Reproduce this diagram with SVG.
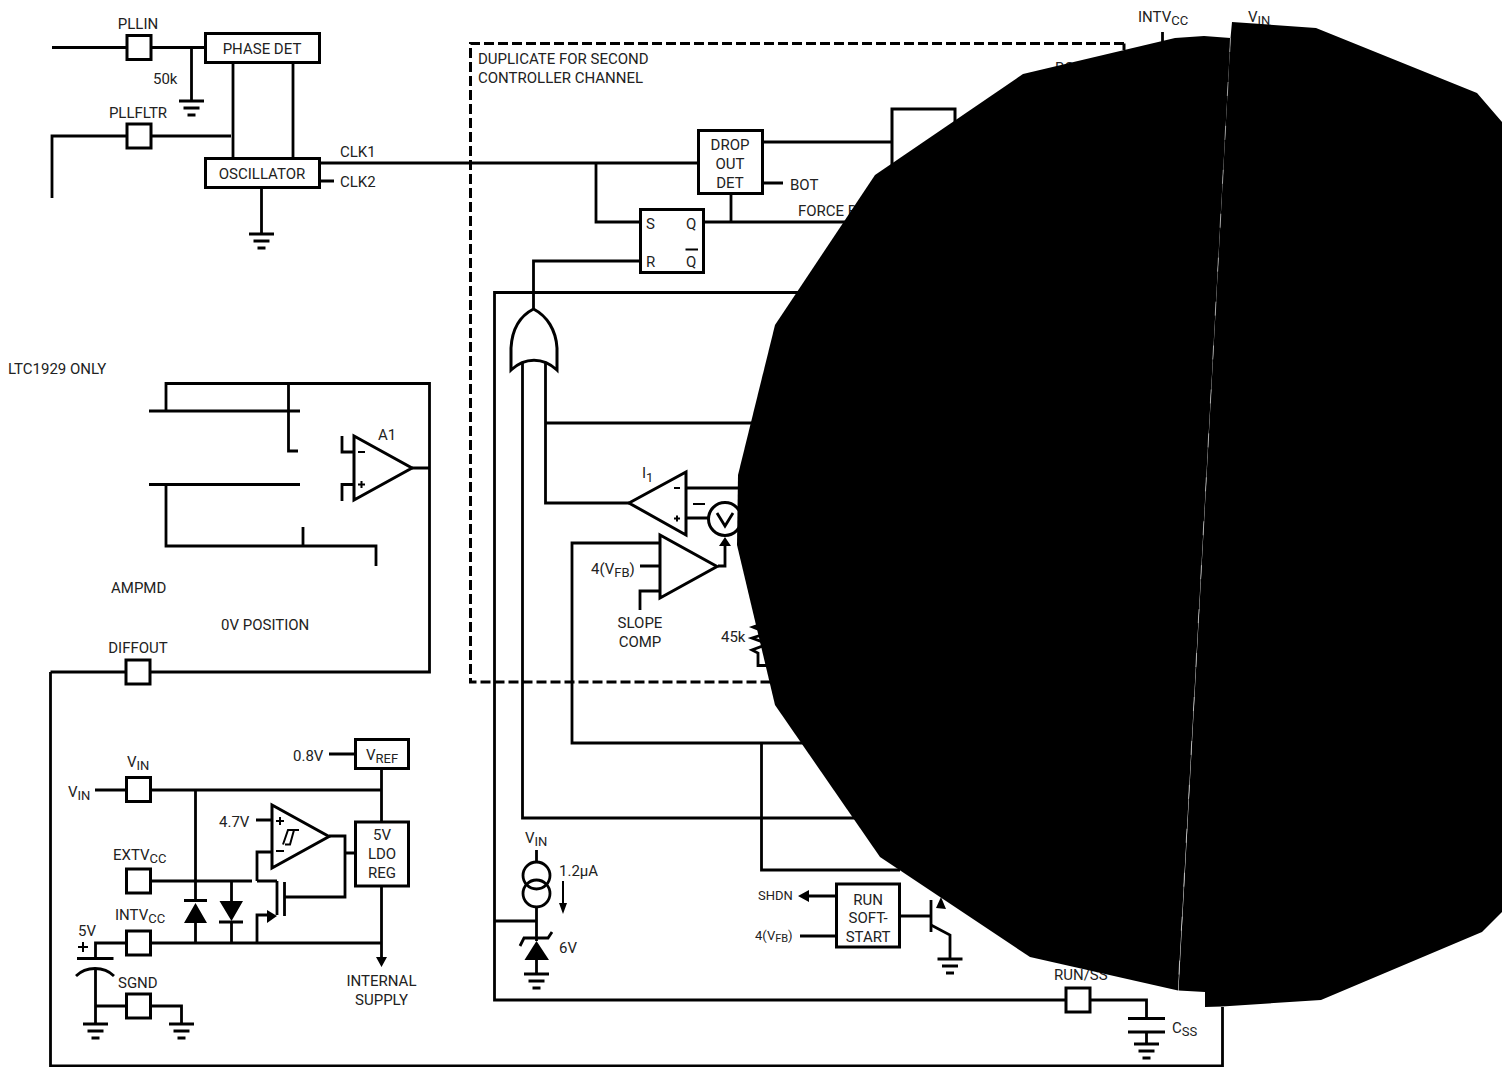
<svg xmlns="http://www.w3.org/2000/svg" width="1502" height="1067" viewBox="0 0 1502 1067">
<style>
text{font-family:"Roboto","Liberation Sans",Arial,sans-serif;font-size:15px;fill:#222}
.c{text-anchor:middle}
.s{font-size:13px}
.w{fill:none;stroke:#000;stroke-width:2.800}
.t{stroke-width:2}
.b{fill:#fff;stroke:#000;stroke-width:3}
.k{fill:#000;stroke:none}
.d{fill:none;stroke:#000;stroke-width:3;stroke-dasharray:10 4}
</style>
<defs>
<g id="gnd"><path class="w" d="M-12.500 0H12.500M-8 7H8M-4 14H4"/></g>
<rect id="pin" x="-12" y="-12" width="24" height="24" class="b"/>
</defs>
<rect width="1502" height="1067" fill="#fff"/>
<g id="connectors">
<path class="w" d="M52 47.500H205M191.500 47.500V101M233 62V158M293 62V158M52 198V136H231M261.500 187V234"/>
<path class="w" d="M319 163H698M319 181H334M596 163V222H640M763 142H892M763 183H783M731 193V222M703 222H860M640 261H533.500V310"/>
<path class="d" d="M1124 43.500H470.500V682H800M1124 43.500V50"/>
<path class="w" d="M1162.500 32V42"/>
<path class="w" d="M800 292.500H494.500V1000H1066M1090 1000H1146.500V1018M1146.500 1032V1044"/>
<path class="w" d="M1222.500 1007V1067M50.500 672V1066H1222"/>
<path class="w" d="M522.500 362V818H870M545.500 362V503H629M545.500 423H770M686 488H745M686 518H708"/>
<path class="w" d="M660 543H572V743H810M640 566H660M660 591H640V610M718 566H725V546M761.500 743V870H900"/>
<path class="w" d="M166 411V383.500H429.500V672H50.500M149 411H300M288.500 383.500V451H298M342 436V452H354M342 501V484.500H354M412 468H429.500M149 484.500H300M166 484.500V546H376V566M303 527V546"/>
<path class="w" d="M95 790H126M150 790H381.500M381.500 769V822M329 754H355M195.500 790V900M150 881H252M231.500 881V901M257 881V852H272M257 881H277M256 820H272M329 836H345V897H285M345 853H355M150 943H381.500M195.500 923V943M231.500 922V943M257 943V915H268M381.500 886V958M126 943H95.500V958M95.500 970V1024M95.500 1006H126M150 1006H181.500V1024"/>
<path class="w" d="M536.500 850V862M536.500 907V941M494 921H536.500M536.500 960V974M800 936H836M808 896H836M900 916H931M931 925L950 935V958"/>
<path class="w t" d="M563 881V906"/>
<path class="k" d="M725 537L731 546H719ZM563 914L559 903H567ZM798 896L809 890V902ZM381.500 967L376 957H387Z"/>
</g>
<g id="pll-in"><use href="#pin" x="139" y="47.500"/><text class="c" x="138" y="29">PLLIN</text><text x="153" y="84">50k</text><use href="#gnd" x="191.500" y="101"/></g>
<g id="pll-fltr"><use href="#pin" x="139" y="136"/><text class="c" x="138" y="118">PLLFLTR</text></g>
<g id="phase-det"><rect class="b" x="205.500" y="33.500" width="114" height="29"/><text class="c" x="262" y="54">PHASE DET</text></g>
<g id="oscillator"><rect class="b" x="205.500" y="158.500" width="114" height="29"/><text class="c" x="262" y="179">OSCILLATOR</text><text x="340" y="157">CLK1</text><text x="340" y="187">CLK2</text><use href="#gnd" x="261.500" y="234"/></g>
<g id="duplicate-label"><text x="478" y="64">DUPLICATE FOR SECOND</text><text x="478" y="83">CONTROLLER CHANNEL</text></g>
<g id="dropout"><rect class="b" x="698.500" y="130.500" width="64" height="63"/><text class="c" x="730" y="150">DROP</text><text class="c" x="730" y="169">OUT</text><text class="c" x="730" y="188">DET</text><text x="790" y="190">BOT</text><text x="798" y="216">FORCE B</text></g>
<g id="top-box"><rect class="b" x="892" y="109" width="63" height="60"/></g>
<g id="sr-latch"><rect class="b" x="640.500" y="209.500" width="63" height="63"/><text x="646" y="229">S</text><text x="686" y="229">Q</text><text x="646" y="267">R</text><text x="686" y="267">Q</text><path class="w t" d="M685.500 249.500H698"/></g>
<g id="or-gate"><path class="b" d="M533.500 309C547 316 556 330 557 348V370C543 357 525 357 511 370V348C512 330 520 316 533.500 309Z"/></g>
<g id="i1"><path class="b" d="M629 503L686 472V535Z"/><text x="642" y="478">I<tspan class="s" dy="4">1</tspan></text><path class="w t" d="M674 488H680M674 518.500H680M677 515.500V521.500M693 504H705"/></g>
<g id="sum"><circle class="b" cx="725" cy="519" r="16.500"/><path class="w" d="M717 513L725 526L733 513"/></g>
<g id="ea"><path class="b" d="M660 535V598L717 566.500Z"/><text x="591" y="574">4(V<tspan class="s" dy="3">FB</tspan><tspan dy="-3">)</tspan></text><text class="c" x="640" y="628">SLOPE</text><text class="c" x="640" y="647">COMP</text></g>
<g id="r45k"><text x="721" y="642">45k</text><path class="w" d="M768 622L753 627L768 633L752 638L768 644L752 650L758 653V665.500H775"/></g>
<g id="a1"><path class="b" d="M354 436V500L412 468Z"/><text x="378" y="440">A1</text><path class="w t" d="M358 452H365M358 484.500H365M361.500 481V488"/></g>
<g id="notes"><text x="8" y="374">LTC1929 ONLY</text><text x="111" y="593">AMPMD</text><text x="221" y="630">0V POSITION</text></g>
<g id="diffout"><use href="#pin" x="138" y="672"/><text class="c" x="138" y="653">DIFFOUT</text></g>
<g id="vin-pin"><use href="#pin" x="138.500" y="789.500"/><text x="127" y="767">V<tspan class="s" dy="3">IN</tspan></text><text x="68" y="797">V<tspan class="s" dy="3">IN</tspan></text></g>
<g id="vref"><rect class="b" x="355.500" y="739.500" width="53" height="29"/><text x="366" y="760">V<tspan class="s" dy="3">REF</tspan></text><text x="293" y="761">0.8V</text></g>
<g id="ldo"><rect class="b" x="355.500" y="822" width="53" height="64"/><text class="c" x="382" y="840">5V</text><text class="c" x="382" y="859">LDO</text><text class="c" x="382" y="878">REG</text></g>
<g id="comparator"><path class="b" d="M272 805V868L329 836.500Z"/><text x="219" y="827">4.7V</text><path class="w t" d="M276 821H284M280 817V825M276 851H284"/><path class="w t" d="M285 844.500H290L294 830H299M283 844.500L288 830H294"/></g>
<g id="extv"><use href="#pin" x="138.500" y="881"/><text x="113" y="860">EXTV<tspan class="s" dy="3">CC</tspan></text></g>
<g id="intv"><use href="#pin" x="138.500" y="943"/><text x="115" y="920">INTV<tspan class="s" dy="3">CC</tspan></text><text x="78" y="936">5V</text><path class="w t" d="M78 947H88M83 942V952"/></g>
<g id="diodes"><path class="w" d="M184 900.500H207M219 922H243"/><path class="k" d="M195.500 903L207 923H184ZM231.500 921L219.500 901H243Z"/></g>
<g id="mosfet"><path class="w" d="M277 881V915M284.500 882V916"/><path class="k" d="M277 916L267 910V923Z"/></g>
<g id="cap"><path class="w" d="M77 958.500H113.500M76 976C86 966 104 966 114 976"/></g>
<g id="sgnd"><use href="#pin" x="138.500" y="1006"/><text x="118" y="988">SGND</text><use href="#gnd" x="95.500" y="1024"/><use href="#gnd" x="181.500" y="1024"/></g>
<g id="supply"><text class="c" x="381.500" y="986">INTERNAL</text><text class="c" x="381.500" y="1005">SUPPLY</text></g>
<g id="current-source"><circle class="w" cx="536.500" cy="875.500" r="13.500"/><circle class="w" cx="536.500" cy="893.500" r="13.500"/><text x="525" y="843">V<tspan class="s" dy="3">IN</tspan></text><text x="559" y="876">1.2µA</text></g>
<g id="zener"><path class="w" d="M520 946L524 938H548L552 932"/><path class="k" d="M536.500 941L549 960H524.500Z"/><use href="#gnd" x="536.500" y="974"/><text x="559" y="953">6V</text></g>
<g id="run-softstart"><rect class="b" x="836.500" y="884" width="63" height="63"/><text class="c" x="868" y="905">RUN</text><text class="c" x="868" y="923">SOFT-</text><text class="c" x="868" y="942">START</text><text class="s" x="758" y="900">SHDN</text><text class="s" x="755" y="940">4(V<tspan font-size="11" dy="2">FB</tspan><tspan dy="-2">)</tspan></text></g>
<g id="transistor"><path class="w" d="M931 900V932"/><path class="k" d="M936 908L941 897L946 909Z"/><use href="#gnd" x="950" y="959"/></g>
<g id="run-ss"><use href="#pin" x="1078" y="1000"/><text x="1054" y="980">RUN/SS</text><path class="w" d="M1128 1018.500H1165M1128 1032H1165"/><use href="#gnd" x="1146.500" y="1044"/><text x="1172" y="1033">C<tspan class="s" dy="3">SS</tspan></text></g>
<g id="top-labels"><text x="1138" y="22">INTV<tspan class="s" dy="3">CC</tspan></text><text x="1248" y="22">V<tspan class="s" dy="3">IN</tspan></text><text x="1055" y="73">BO</text></g>
<g id="blob">
<path class="k" d="M875 175L1023 74L1175 38L1204 36L1230.500 38L1178 990.500L1030 957L880 857L775 705L737 545L738 475L775 325Z"/>
<path class="k" d="M1232 22L1316 28L1477 93L1502 122V912L1482 932L1321 1000L1222 1006.500L1205 1007V992L1178.500 990.500L1230.500 38Z"/>
<path d="M1230.500 38L1178 990.500" stroke="#fff" stroke-width="0.500" stroke-dasharray="14 30" fill="none"/>
</g>
</svg>
